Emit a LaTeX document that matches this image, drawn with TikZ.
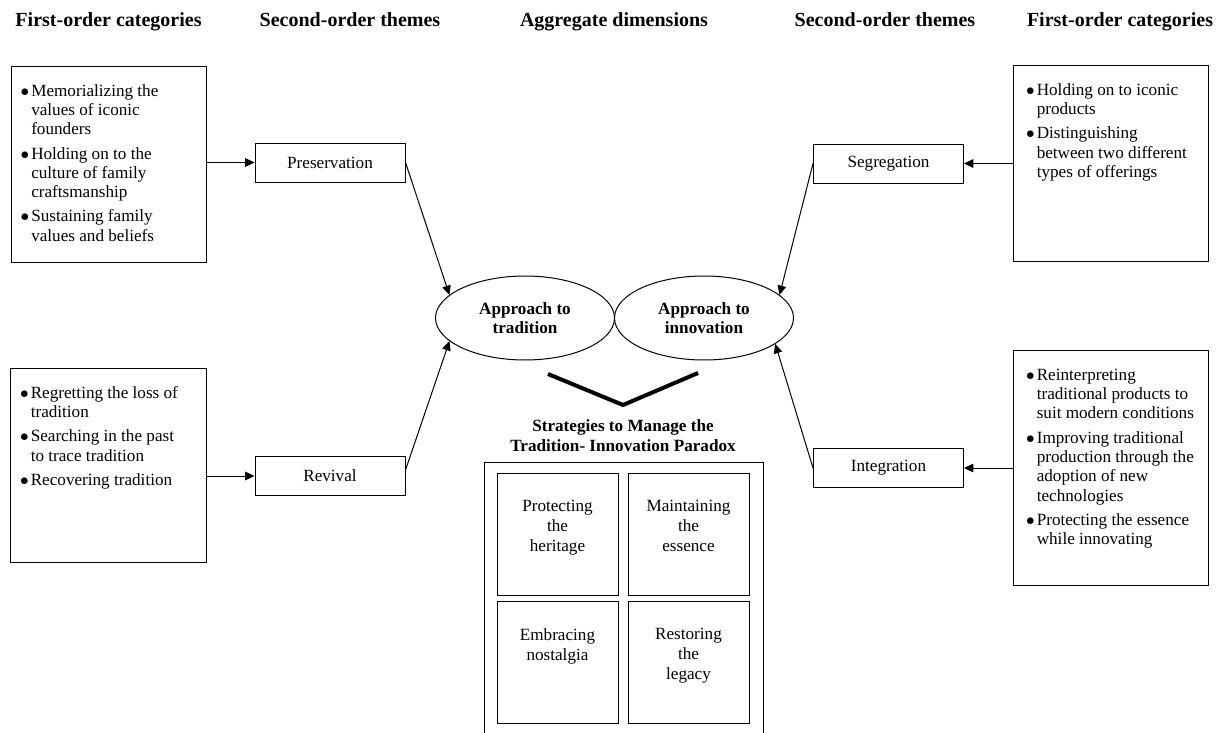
\documentclass[tikz,border=0pt]{standalone}
\usepackage{fontspec}
\setmainfont{Liberation Serif}
\usetikzlibrary{shapes.geometric,arrows.meta}
\newcommand{\bul}{\makebox[7pt][l]{\hspace{-0.5pt}$\bullet$}}
\begin{document}
\begin{tikzpicture}[x=0.7pt,y=-0.7pt,
  every node/.style={font=\fontsize{12}{13.5}\selectfont},
  hdr/.style={font=\fontsize{14}{16}\selectfont\bfseries, inner sep=0, anchor=base},
  catbox/.style={draw, line width=0.7pt, minimum width=136.5pt, inner sep=0},
  catext/.style={anchor=north west, inner sep=0, align=left},
  theme/.style={draw, line width=0.7pt, minimum width=105pt, minimum height=27.3pt, inner sep=0},
  dim/.style={draw, line width=0.7pt, ellipse, minimum width=125.3pt, minimum height=58.8pt, inner sep=0, align=center, font=\fontsize{12}{13.3}\selectfont\bfseries},
  strat/.style={draw, line width=0.7pt, minimum width=84.7pt, minimum height=85.4pt, inner sep=0},
  stext/.style={anchor=north, inner sep=0, align=center, font=\fontsize{12}{14}\selectfont},
  arr/.style={line width=0.7pt, -{Triangle[length=6.5pt,width=6pt]}},
]
\useasboundingbox (0,0) rectangle (1219,733);

% headers
\node[hdr] (h1) at (108.5,27) {First-order categories};
\node[hdr] (h2) at (350,27) {Second-order themes};
\node[hdr] (h3) at (614,27) {Aggregate dimensions};
\node[hdr] (h4) at (885,27) {Second-order themes};
\node[hdr] (h5) at (1120,27) {First-order categories};

% first-order category boxes
\node[catbox, minimum height=136.5pt] (lt) at (109,164.5) {};
\node[catext] (ltt) at ([xshift=7pt,yshift=-11.2pt]lt.north west) {%
\begin{tabular}{@{}l@{}l@{}}
\bul & Memorializing the\\
 & values of iconic\\
 & founders\\[3.5pt]
\bul & Holding on to the\\
 & culture of family\\
 & craftsmanship\\[3.5pt]
\bul & Sustaining family\\
 & values and beliefs
\end{tabular}};

\node[catbox, minimum height=135.8pt] (lb) at (108.5,465) {};
\node[catext] (lbt) at ([xshift=7pt,yshift=-11.9pt]lb.north west) {%
\begin{tabular}{@{}l@{}l@{}}
\bul & Regretting the loss of\\
 & tradition\\[3.5pt]
\bul & Searching in the past\\
 & to trace tradition\\[3.5pt]
\bul & Recovering tradition
\end{tabular}};

\node[catbox, minimum height=136.5pt] (rt) at (1110.5,163.5) {};
\node[catext] (rtt) at ([xshift=9.8pt,yshift=-11.2pt]rt.north west) {%
\begin{tabular}{@{}l@{}l@{}}
\bul & Holding on to iconic\\
 & products\\[3.5pt]
\bul & Distinguishing\\
 & between two different\\
 & types of offerings
\end{tabular}};

\node[catbox, minimum height=164.5pt] (rb) at (1110.5,467.5) {};
\node[catext] (rbt) at ([xshift=9.8pt,yshift=-11.9pt]rb.north west) {%
\begin{tabular}{@{}l@{}l@{}}
\bul & Reinterpreting\\
 & traditional products to\\
 & suit modern conditions\\[3.5pt]
\bul & Improving traditional\\
 & production through the\\
 & adoption of new\\
 & technologies\\[3.5pt]
\bul & Protecting the essence\\
 & while innovating
\end{tabular}};

% second-order themes
\node[theme] (pres) at (330,162.5) {Preservation};
\node[theme] (rev) at (330,476) {Revival};
\node[theme] (seg) at (888.5,163.5) {Segregation};
\node[theme] (integ) at (888.5,468) {Integration};

% aggregate dimensions
\node[dim] (trad) at (525,318) {Approach to\\tradition};
\node[dim] (innov) at (704,318) {Approach to\\innovation};

% connectors
\draw[arr] (lt.east |- pres.west) -- (pres.west);
\draw[arr] (lb.east |- rev.west) -- (rev.west);
\draw[arr] (rt.west |- seg.east) -- (seg.east);
\draw[arr] (rb.west |- integ.east) -- (integ.east);
\draw[arr] (pres.east) -- (trad.163);
\draw[arr] ([yshift=4.2pt]rev.east) -- (trad.197);
\draw[arr] (seg.west) -- (innov.17);
\draw[arr] (integ.west) -- (innov.-20);

% V shape
\coordinate (va) at (548,374);
\coordinate (vb) at (623,405);
\coordinate (vc) at (698,373);
\draw[line width=2.8pt] (va) -- (vb) -- (vc);

% strategies
\node[font=\fontsize{12}{14}\selectfont\bfseries, align=center, inner sep=0] (stitle) at (623,436) {Strategies to Manage the\\Tradition- Innovation Paradox};
\coordinate (o1) at (484,740);
\coordinate (o2) at (484,462);
\coordinate (o3) at (763,462);
\coordinate (o4) at (763,740);
\draw[line width=0.7pt] (o1) -- (o2) -- (o3) -- (o4);

\node[strat] (s1) at (557.5,534) {};
\node[strat] (s2) at (688.5,534) {};
\node[strat] (s3) at (557.5,662.5) {};
\node[strat] (s4) at (688.5,662.5) {};
\node[stext] (s1t) at ([yshift=-18.9pt]s1.north) {Protecting\\the\\heritage};
\node[stext] (s2t) at ([yshift=-18.9pt]s2.north) {Maintaining\\the\\essence};
\node[stext] (s3t) at ([yshift=-18.9pt]s3.north) {Embracing\\nostalgia};
\node[stext] (s4t) at ([yshift=-18.9pt]s4.north) {Restoring\\the\\legacy};
\end{tikzpicture}
\end{document}
